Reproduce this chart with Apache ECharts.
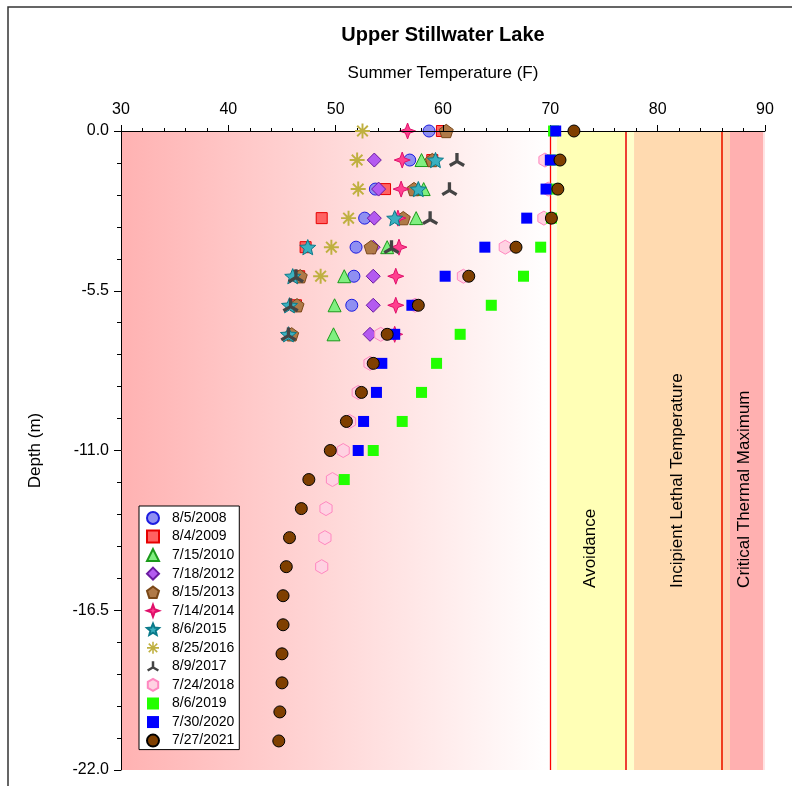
<!DOCTYPE html>
<html>
<head>
<meta charset="utf-8">
<script src="https://cdn.jsdelivr.net/npm/echarts@6/dist/echarts.min.js"></script>
<style>html,body{margin:0;padding:0;background:#fff}#c{width:792px;height:786px}</style>
</head>
<body>
<div id="c"></div>
<script>
// ---- data ----
const depths = [0,-1,-2,-3,-4,-5,-6,-7,-8,-9,-10,-11,-12,-13,-14,-15,-16,-17,-18,-19,-20,-21];
const seriesNames = ['8/5/2008','8/4/2009','7/15/2010','7/18/2012','8/15/2013','7/14/2014','8/6/2015','8/25/2016','8/9/2017','7/24/2018','8/6/2019','7/30/2020','7/27/2021'];
const t2008 = [58.7,56.9,53.7,52.7,51.9,51.7,51.5];
const t2009 = [59.9,59.0,54.6,48.7,47.2,46.6,46.3];
const t2010 = [null,58.0,58.2,57.5,54.8,50.8,49.9,49.8];
const t2012 = [null,53.6,54.0,53.6,53.5,53.5,53.5,53.2];
const t2013 = [60.3,59.0,57.3,56.3,53.3,46.7,46.4,45.9];
const t2014 = [56.7,56.2,56.1,55.8,55.9,55.6,55.6,55.5];
const t2015 = [null,59.3,57.7,55.5,47.4,46.0,45.7,45.6];
const t2016 = [52.5,52.0,52.1,51.2,49.6,48.6];
const t2017 = [null,61.3,60.6,58.8,55.2,46.3,45.8,45.6];
const t2018 = [null,69.5,69.8,69.4,65.8,61.9,57.4,54.2,53.2,52.1,51.3,50.7,49.7,49.1,49.0,48.7];
const t2019 = [70.3,70.2,70.5,70.1,69.1,67.5,64.5,61.6,59.4,58.0,56.2,53.5,50.8];
const t2020 = [70.5,70.0,69.6,67.8,63.9,60.2,57.1,55.5,54.3,53.8,52.6,52.1];
const t2021 = [72.2,70.9,70.7,70.1,66.8,62.4,57.7,54.8,53.5,52.4,51.0,49.5,47.5,46.8,45.7,45.4,45.1,45.1,45.0,45.0,44.8,44.7];
const xTicks = {min:30, max:90, interval:10};
const yTicks = {min:-22, max:0, interval:5.5};
const zoneLines = [70, 77, 86];
const zoneLabels = [['Avoidance',73.7],['Incipient Lethal Temperature',81.8],['Critical Thermal Maximum',88.05]];
const allTemps = [t2008,t2009,t2010,t2012,t2013,t2014,t2015,t2016,t2017,t2018,t2019,t2020,t2021];

// ---- symbol shapes ----
function poly(pts){ return 'path://M' + pts.map(p => (p[0]*100).toFixed(2)+' '+(p[1]*100).toFixed(2)).join(' L') + ' Z'; }
function regular(n, start){ const p=[]; for(let i=0;i<n;i++){const a=start+i*2*Math.PI/n; p.push([Math.cos(a),Math.sin(a)]);} return poly(p); }
function star(n, inner, start){ const p=[]; for(let i=0;i<2*n;i++){const a=start+i*Math.PI/n; const r=i%2?inner:1; p.push([r*Math.cos(a),r*Math.sin(a)]);} return poly(p); }
function arms(k, h, start){
  const p=[];
  for(let i=0;i<k;i++){
    const a=start+i*2*Math.PI/k, d=[Math.cos(a),Math.sin(a)], n=[-Math.sin(a),Math.cos(a)];
    p.push([d[0]-n[0]*h, d[1]-n[1]*h]); p.push([d[0]+n[0]*h, d[1]+n[1]*h]);
    const b=a+Math.PI/k, r=h/Math.sin(Math.PI/k);
    p.push([r*Math.cos(b), r*Math.sin(b)]);
  }
  return poly(p);
}
const up = -Math.PI/2;
const styles = [
  {symbol:'circle', size:12, color:'#8f8ff2', border:'#1c1ce0'},
  {symbol:'rect', size:11, color:'#ff6262', border:'#e60000'},
  {symbol:'triangle', size:13, color:'#80ef80', border:'#1a9a1a'},
  {symbol:'diamond', size:14, color:'#b45af0', border:'#6a1aa0'},
  {symbol:regular(5, up), size:14, color:'#b07a48', border:'#7a4818'},
  {symbol:star(4, 0.38, up), size:16, color:'#ff408f', border:'#e0106a'},
  {symbol:star(5, 0.45, up), size:16, color:'#3ab0c0', border:'#0a7a8a'},
  {symbol:arms(8, 0.13, up), size:15, color:'#bfb040', border:'#bfb040', bw:0},
  {symbol:arms(3, 0.2, up), size:16, color:'#444444', border:'#444444', bw:0},
  {symbol:regular(6, up), size:14, color:'#ffd2e2', border:'#ff88c0'},
  {symbol:'rect', size:11, color:'#22ff00', border:'#22ff00', bw:0},
  {symbol:'rect', size:11, color:'#0000ff', border:'#0000ff', bw:0},
  {symbol:'circle', size:12, color:'#7f3f00', border:'#000000'}
];

const FONT = 'Liberation Sans, Arial, sans-serif';
const series = [{
  name:'zones', type:'scatter', data:[], z:1, silent:true,
  markArea:{silent:true, itemStyle:{borderWidth:0}, data:[
    [{xAxis:30, itemStyle:{color:{type:'linear',x:0,y:0,x2:1,y2:0,colorStops:[{offset:0,color:'#ffb2b2'},{offset:1,color:'#ffffff'}]}}},{xAxis:70}],
    [{xAxis:70, itemStyle:{color:'#ffffe4'}},{xAxis:70.62}],
    [{xAxis:70.62, itemStyle:{color:'#ffffb6'}},{xAxis:77}],
    [{xAxis:77, itemStyle:{color:'#ffffcc'}},{xAxis:77.8}],
    [{xAxis:77.8, itemStyle:{color:'#ffdab0'}},{xAxis:86}],
    [{xAxis:86, itemStyle:{color:'#ffd2b2'}},{xAxis:86.74}],
    [{xAxis:86.74, itemStyle:{color:'#ffb0b0'}},{xAxis:89.85}],
    [{xAxis:89.85, itemStyle:{color:'#ffe4e4'}},{xAxis:90}]
  ]},
  markLine:{silent:true, symbol:'none', label:{show:false}, data:[
    {xAxis:zoneLines[0], lineStyle:{color:'#ff0000', width:1.3, type:'solid'}},
    {xAxis:zoneLines[1], lineStyle:{color:'#e80000', width:1.5, type:'solid'}},
    {xAxis:zoneLines[2], lineStyle:{color:'#f03c1e', width:2, type:'solid'}}
  ]}
}];
allTemps.forEach((arr, i) => {
  const s = styles[i];
  const data = [];
  arr.forEach((t, k) => { if (t != null) data.push([t, depths[k]]); });
  series.push({
    name: seriesNames[i], type:'scatter', z: 3 + i, data,
    symbol: s.symbol, symbolSize: s.size, symbolKeepAspect: true,
    itemStyle: {color: s.color, borderColor: s.border, borderWidth: s.bw === undefined ? 1 : s.bw, opacity: 1}
  });
});

const chart = echarts.init(document.getElementById('c'), null, {renderer:'canvas'});
chart.setOption({
  animation:false,
  backgroundColor:'#ffffff',
  title:{text:'Upper Stillwater Lake', left:443, top:25, textAlign:'center', padding:0,
    textStyle:{fontFamily:FONT, fontSize:20, fontWeight:'bold', color:'#000'}},
  grid:{left:121, top:131, right:27, bottom:16, containLabel:false},
  xAxis:{type:'value', position:'top', min:xTicks.min, max:xTicks.max, interval:xTicks.interval, z:10,
    name:'Summer Temperature (F)', nameLocation:'middle', nameGap:49,
    nameTextStyle:{fontFamily:FONT, fontSize:17, color:'#000'},
    axisLine:{show:true, onZero:false, lineStyle:{color:'#000', width:1}},
    axisTick:{show:true, inside:false, length:6, lineStyle:{color:'#000'}},
    minorTick:{show:true, splitNumber:5, length:3, lineStyle:{color:'#000'}},
    splitLine:{show:false}, minorSplitLine:{show:false},
    axisLabel:{fontFamily:FONT, fontSize:16, color:'#000', margin:13}},
  yAxis:{type:'value', min:yTicks.min, max:yTicks.max, interval:yTicks.interval, z:10,
    name:'Depth (m)', nameLocation:'middle', nameGap:77, nameRotate:90,
    nameTextStyle:{fontFamily:FONT, fontSize:17, color:'#000'},
    axisLine:{show:true, onZero:false, lineStyle:{color:'#000', width:1}},
    axisTick:{show:true, inside:false, length:7, lineStyle:{color:'#000'}},
    minorTick:{show:true, splitNumber:5, length:4, lineStyle:{color:'#000'}},
    splitLine:{show:false}, minorSplitLine:{show:false},
    axisLabel:{fontFamily:FONT, fontSize:16, color:'#000', margin:12, formatter:v => v.toFixed(1)}},
  legend:{data:seriesNames, orient:'vertical', left:139, top:506, padding:[5,5,2,7],
    itemWidth:12, itemHeight:12, itemGap:4.55, itemTextGap:5,
    backgroundColor:'#ffffff', borderColor:'#000', borderWidth:1, borderRadius:0,
    textStyle:{fontFamily:FONT, fontSize:14, color:'#000', padding:[0,0,0,8]}},
  series
});

const yBottom = -15.73;
const graphics = zoneLabels.map(([txt, xv]) => {
  const p = chart.convertToPixel({xAxisIndex:0, yAxisIndex:0}, [xv, yBottom]);
  return {type:'text', x:p[0], y:p[1], rotation:Math.PI/2, z:20, silent:true,
    style:{text:txt, fontFamily:FONT, fontSize:17, fill:'#000', align:'left', verticalAlign:'middle'}};
});
graphics.push({type:'rect', z:-1, silent:true, shape:{x:8, y:7, width:900, height:900},
  style:{fill:'none', stroke:'#333', lineWidth:1.5}});
chart.setOption({graphic:graphics});
</script>
</body>
</html>
